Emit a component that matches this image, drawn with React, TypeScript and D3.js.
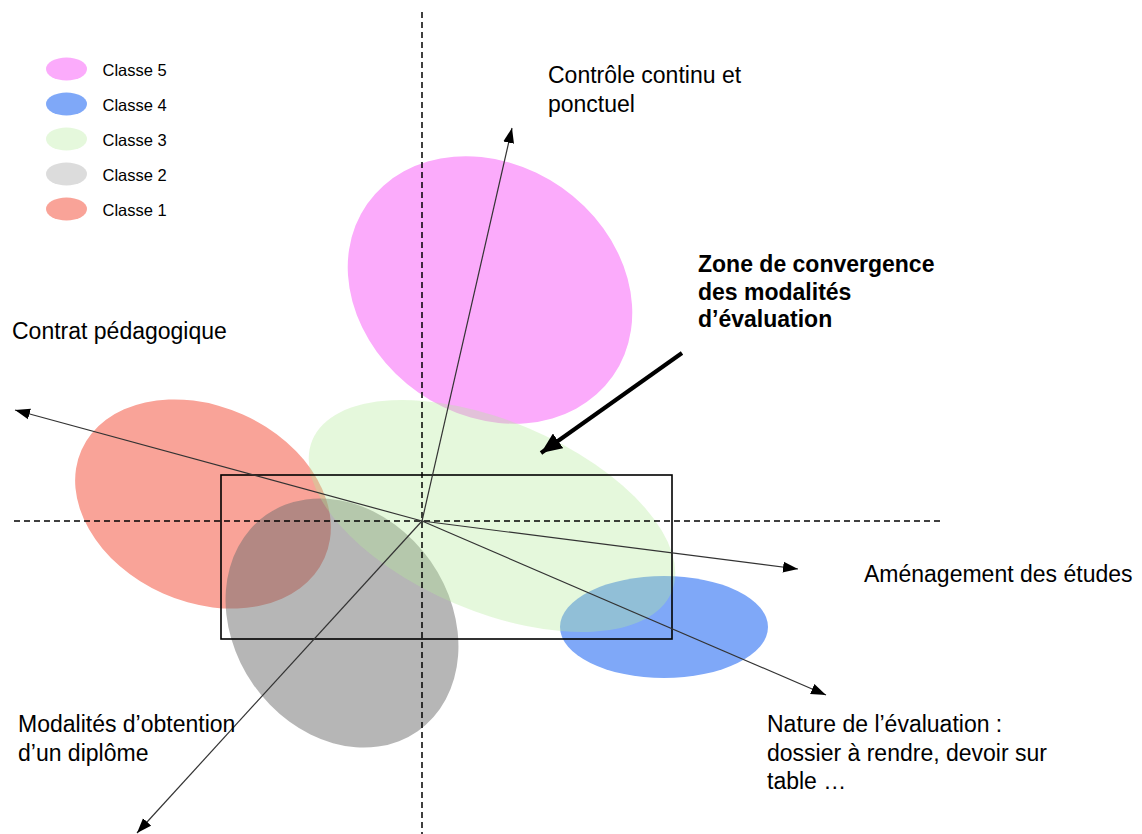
import * as d3 from "d3";

// factor plane, x to the right and y upward, one unit = one tick of the original sketch
const classes = ["Classe 5", "Classe 4", "Classe 3", "Classe 2", "Classe 1"];
const classCx = [0.68, 2.42, 0.7, -0.8, -2.19];
const classCy = [2.31, -1.06, 0.05, -1.02, 0.17];
const classRx = [1.5, 1.04, 1.95, 1.32, 1.33];
const classRy = [1.25, 0.51, 0.95, 1.08, 0.98];
const classAngle = [-35, 0, -23, -55, -24];

const axisNames = [
  ["Contrôle continu et", "ponctuel"],
  ["Contrat pédagogique"],
  ["Aménagement des études"],
  ["Nature de l’évaluation :", "dossier à rendre, devoir sur", "table …"],
  ["Modalités d’obtention", "d’un diplôme"],
];
const axisTipX = [0.9, -4.07, 3.76, 4.04, -2.85];
const axisTipY = [3.93, 1.11, -0.48, -1.74, -3.12];
const axisLabelX = [1.26, -4.1, 4.42, 3.45, -4.04];
const axisLabelY = [4.38, 1.82, -0.61, -2.11, -2.11];

const zoneName = ["Zone de convergence", "des modalités", "d’évaluation"];
const zoneBox = [-2.01, 2.5, 0.46, -1.18];
const zoneArrowFrom = [2.6, 1.68];
const zoneArrowTo = [1.19, 0.68];
const zoneLabel = [2.76, 2.49];

const W = 1142;
const H = 834;

const fills: Record<string, { fill: string; opacity: number }> = {
  "Classe 5": { fill: "#FBABFB", opacity: 1 },
  "Classe 4": { fill: "#7FA8F8", opacity: 1 },
  "Classe 3": { fill: "#B5EB9B", opacity: 0.35 },
  "Classe 2": { fill: "#6E6E6E", opacity: 0.5 },
  "Classe 1": { fill: "#F9A398", opacity: 1 },
};
const legendFill = ["#FBABFB", "#7FA8F8", "#E5F8DC", "#DCDCDC", "#F9A398"];
const drawOrder = [0, 4, 3, 1, 2];

const font = "'Liberation Sans', Arial, sans-serif";

export default function App() {
  const x = d3.scaleLinear().domain([-4.22, 7.2]).range([0, W]);
  const y = d3.scaleLinear().domain([5.21, -3.13]).range([0, H]);
  const unit = x(1) - x(0);
  const lineH = 28.5;

  return (
    <svg
      width={W}
      height={H}
      style={{ position: "absolute", left: 0, top: 0, display: "block", background: "#fff" }}
      fontFamily={font}
    >
      <defs>
        <marker id="thin" markerUnits="userSpaceOnUse" markerWidth={16} markerHeight={12}
          refX={15} refY={6} orient="auto">
          <path d="M0,0.5 L15,6 L0,11.5 Z" fill="#000" />
        </marker>
        <marker id="thick" markerUnits="userSpaceOnUse" markerWidth={22} markerHeight={18}
          refX={21} refY={9} orient="auto">
          <path d="M0,0 L21,9 L0,18 Z" fill="#000" />
        </marker>
      </defs>

      {drawOrder.map((i) => (
        <ellipse
          key={classes[i]}
          cx={0}
          cy={0}
          rx={classRx[i] * unit}
          ry={classRy[i] * unit}
          transform={`translate(${x(classCx[i])},${y(classCy[i])}) rotate(${-classAngle[i]})`}
          fill={fills[classes[i]].fill}
          fillOpacity={fills[classes[i]].opacity}
        />
      ))}

      {/* dashed reference axes */}
      <line x1={x(0)} x2={x(0)} y1={y(5.09)} y2={H} stroke="#000" strokeWidth={1.5} strokeDasharray="6,4" />
      <line x1={x(-4.08)} x2={x(5.18)} y1={y(0)} y2={y(0)} stroke="#000" strokeWidth={1.5} strokeDasharray="6,4" />

      {/* zone box */}
      <rect
        x={x(zoneBox[0])}
        y={y(zoneBox[2])}
        width={x(zoneBox[1]) - x(zoneBox[0])}
        height={y(zoneBox[3]) - y(zoneBox[2])}
        fill="none"
        stroke="#000"
        strokeWidth={1.6}
      />

      {/* variable axes */}
      {axisTipX.map((tx, i) => (
        <line key={i} x1={x(0)} y1={y(0)} x2={x(tx)} y2={y(axisTipY[i])}
          stroke="#333" strokeWidth={1.2} markerEnd="url(#thin)" />
      ))}

      {axisNames.map((lines, i) => (
        <text key={i} x={x(axisLabelX[i])} y={y(axisLabelY[i])} fontSize={23} fill="#000">
          {lines.map((l, j) => (
            <tspan key={j} x={x(axisLabelX[i])} dy={j === 0 ? 0 : lineH}>{l}</tspan>
          ))}
        </text>
      ))}

      {/* convergence annotation */}
      <line x1={x(zoneArrowFrom[0])} y1={y(zoneArrowFrom[1])} x2={x(zoneArrowTo[0])} y2={y(zoneArrowTo[1])}
        stroke="#000" strokeWidth={4} markerEnd="url(#thick)" />
      <text x={x(zoneLabel[0])} y={y(zoneLabel[1])} fontSize={23} fontWeight="bold" fill="#000">
        {zoneName.map((l, j) => (
          <tspan key={j} x={x(zoneLabel[0])} dy={j === 0 ? 0 : 27.5}>{l}</tspan>
        ))}
      </text>

      {/* legend */}
      <g transform="translate(66.5,69)">
        {classes.map((c, i) => (
          <g key={c} transform={`translate(0,${i * 35})`}>
            <ellipse rx={20.5} ry={11.5} fill={legendFill[i]} />
            <text x={36} y={6.5} fontSize={16.5} fill="#000">{c}</text>
          </g>
        ))}
      </g>
    </svg>
  );
}
